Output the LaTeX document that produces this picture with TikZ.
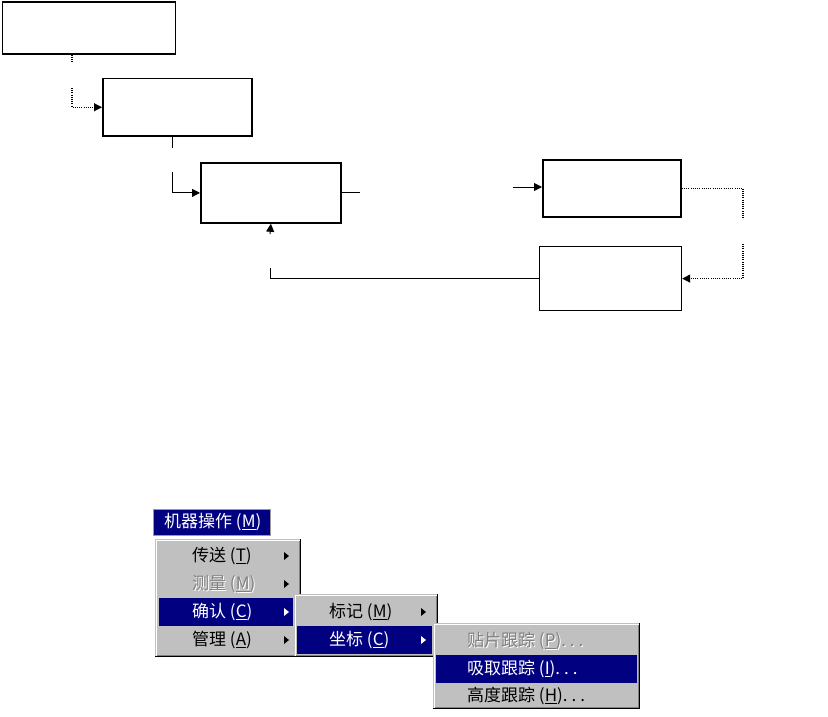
\documentclass[tikz,border=0pt]{standalone}
\usepackage{fontspec}
\newfontfamily\cjk{Noto Sans CJK SC}
\usetikzlibrary{arrows.meta}
\definecolor{menugrey}{HTML}{C0C0C0}
\definecolor{navy}{HTML}{000080}
\definecolor{shadowgrey}{HTML}{808080}
\newcommand\menupanel[4]{%
  \fill[menugrey] (#1,#2) rectangle (#3,#4);
  \draw[white,line width=1pt] (#1+1.5,#4-1.5) -- (#1+1.5,#2+1.5) -- (#3-1.5,#2+1.5);
  \draw[shadowgrey,line width=1pt] (#1+1.5,#4-1.5) -- (#3-1.5,#4-1.5) -- (#3-1.5,#2+1.5);
  \draw[black,line width=1pt] (#1,#4-0.5) -- (#3-0.5,#4-0.5) -- (#3-0.5,#2);
}
\newcommand\subarrow[3]{%
  \fill[#3] (#1,#2-4) -- (#1+5,#2) -- (#1,#2+4) -- cycle;
}
\begin{document}
\begin{tikzpicture}[x=1pt,y=-1pt,
  box/.style={draw, inner sep=0, anchor=north west},
  conn/.style={line width=1pt},
  dotconn/.style={line width=1.1pt, dash pattern=on 1pt off 1.2pt},
  tip/.style={-{Triangle[length=8pt,width=8pt]}},
  item/.style={anchor=west, inner sep=0, font=\cjk\fontsize{17}{17}\selectfont}]
\useasboundingbox (0,0) rectangle (828,717);

% flow boxes
\node[box, line width=1.8pt, minimum width=173pt, minimum height=52pt] (b1) at (1.5,1) {};
\node[box, line width=1.5pt, minimum width=149pt, minimum height=57pt] (b2) at (102,78) {};
\node[box, line width=1.8pt, minimum width=140pt, minimum height=60pt] (b3) at (200,162) {};
\node[box, line width=1.7pt, minimum width=138pt, minimum height=57pt] (b4) at (542,159) {};
\node[box, line width=1.2pt, minimum width=142pt, minimum height=64pt] (b5) at (539,246) {};

% connectors
\coordinate (c1a) at (72,62);  \coordinate (c1b) at (72,88);
\draw[dotconn] (b1.south -| c1a) -- (c1a);
\draw[dotconn,tip] (c1b) |- (b2.west);

\coordinate (c2a) at (172,148); \coordinate (c2b) at (172,172);
\draw[conn] (b2.south -| c2a) -- (c2a);
\draw[conn,tip] (c2b) |- (b3.west);

\coordinate (c3a) at (360,192); \coordinate (c3b) at (513,187);
\draw[conn] (b3.east) -- (b3.east -| c3a);
\draw[conn,tip] (c3b) -- (c3b -| b4.west);

\coordinate (c4a) at (743,219); \coordinate (c4b) at (743,244);
\draw[dotconn] (b4.east) -| (c4a);
\draw[dotconn,tip] (c4b) |- (b5.east);

\coordinate (c5a) at (270,268); \coordinate (c5b) at (270,234);
\draw[conn] (b5.west) -| (c5a);
\draw[conn,tip] (c5b) -- (b3.south);

% menu title
\fill[navy] (153,509) rectangle (270,535);
\draw[menugrey!80!black, line width=1pt] (153,535) -- (153,509) -- (270,509) -- (270,535) -- cycle;
\node[item, text=white] (t0) at (164,522) {机器操作 (\underline{M})};

% menu 1
\menupanel{155}{539}{301}{657}
\fill[navy] (159,598) rectangle (293,626);
\node[item] (m11) at (192,556) {传送 (\underline{T})};
\node[item, text=white] (m12s) at (193,585) {测量 (\underline{M})};
\node[item, text=shadowgrey] (m12) at (192,584) {测量 (\underline{M})};
\node[item, text=white] (m13) at (192,612) {确认 (\underline{C})};
\node[item] (m14) at (192,640) {管理 (\underline{A})};
\subarrow{284}{556}{black}
\subarrow{284}{584}{black}
\subarrow{284}{612}{white}
\subarrow{284}{640}{black}

% menu 2
\menupanel{294}{594}{438}{657}
\fill[navy] (297,626) rectangle (432,654);
\node[item] (m21) at (329,612) {标记 (\underline{M})};
\node[item, text=white] (m22) at (329,640) {坐标 (\underline{C})};
\subarrow{421}{612}{black}
\subarrow{421}{640}{white}

% menu 3
\menupanel{433}{623}{640}{709}
\fill[navy] (436,655) rectangle (637,683);
\node[item, text=white] (m31s) at (468,642) {贴片跟踪 (\underline{P}).\hspace{4pt}.\hspace{4pt}.};
\node[item, text=shadowgrey] (m31) at (467,641) {贴片跟踪 (\underline{P}).\hspace{4pt}.\hspace{4pt}.};
\node[item, text=white] (m32) at (467,669) {吸取跟踪 (\underline{I}).\hspace{4pt}.\hspace{4pt}.};
\node[item] (m33) at (467,696) {高度跟踪 (\underline{H}).\hspace{4pt}.\hspace{4pt}.};
\end{tikzpicture}
\end{document}
